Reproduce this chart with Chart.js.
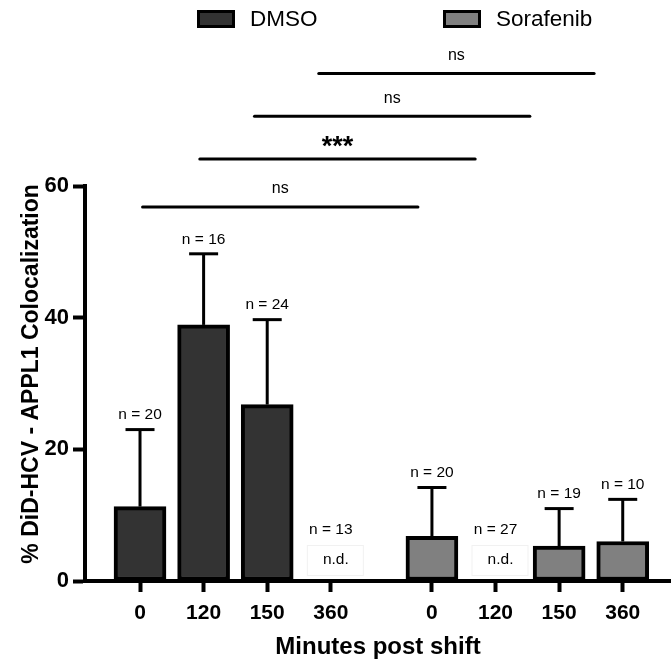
<!DOCTYPE html>
<html><head><meta charset="utf-8">
<script src="https://cdn.jsdelivr.net/npm/chart.js@4"></script>
<style>html,body{margin:0;padding:0;background:#fff}#wrap{width:671px;height:665px;position:relative}</style>
</head><body><div id="wrap"><canvas id="c"></canvas></div>
<script>
// ---- data ----
const timeLabels = ['0', '120', '150', '360'];
const seriesNames = ['DMSO', 'Sorafenib'];
const dmsoMean = [11.3, 38.9, 26.8, null];   // null = n.d.
const dmsoSD   = [11.7, 10.8, 12.9, null];
const dmsoN    = [20, 16, 24, 13];
const soraMean = [6.8, null, 5.3, 6.0];
const soraSD   = [7.4, null, 5.7, 6.4];
const soraN    = [20, 27, 19, 10];
const sigText  = ['ns', '***', 'ns', 'ns'];
const sigFrom  = [0.04, 0.94, 1.80, 2.81];   // in x-axis units
const sigTo    = [4.37, 5.27, 6.13, 7.14];
const sigY     = [56.8, 64.1, 70.6, 77.1];   // in y-axis units

// ---- build ----
const GROUP_GAP = 4.59;
const FONT = '"Liberation Sans", Arial, Helvetica, sans-serif';
const xPos = (g, i) => i + g * GROUP_GAP;
const tickValues = [0, 1].flatMap(g => timeLabels.map((_, i) => xPos(g, i)));
const tickText = [...timeLabels, ...timeLabels];
const groups = [
  {name: seriesNames[0], mean: dmsoMean, sd: dmsoSD, n: dmsoN, fill: '#333333'},
  {name: seriesNames[1], mean: soraMean, sd: soraSD, n: soraN, fill: '#808080'}
];

const annot = {
  id: 'annot',
  afterDraw(chart) {
    const {ctx, scales: {x, y}} = chart;
    ctx.save();
    ctx.strokeStyle = '#000'; ctx.fillStyle = '#000';
    ctx.textAlign = 'center'; ctx.textBaseline = 'middle';
    // error bars + n labels
    groups.forEach((g, gi) => {
      g.mean.forEach((m, i) => {
        const px = x.getPixelForValue(xPos(gi, i));
        ctx.font = '15.5px ' + FONT;
        ctx.fillStyle = '#000';
        if (m === null) {
          const y0 = y.getPixelForValue(0);
          ctx.fillText('n = ' + g.n[i], px, y0 - 51);
          ctx.lineWidth = 1; ctx.strokeStyle = '#f1f1f1';
          ctx.strokeRect(px - 23.5, y0 - 35.5, 56, 30);
          ctx.fillText('n.d.', px + 5, y0 - 21.5);
          ctx.strokeStyle = '#000';
          return;
        }
        const yb = y.getPixelForValue(m), yt = y.getPixelForValue(m + g.sd[i]);
        ctx.lineWidth = 3;
        ctx.beginPath(); ctx.moveTo(px, yb); ctx.lineTo(px, yt); ctx.stroke();
        ctx.beginPath(); ctx.moveTo(px - 14.5, yt); ctx.lineTo(px + 14.5, yt); ctx.stroke();
        ctx.fillText('n = ' + g.n[i], px, yt - 14.5);
      });
    });
    // significance lines
    sigText.forEach((t, k) => {
      const x1 = x.getPixelForValue(sigFrom[k]), x2 = x.getPixelForValue(sigTo[k]);
      const yy = y.getPixelForValue(sigY[k]);
      ctx.lineWidth = 3; ctx.lineCap = 'round';
      ctx.beginPath(); ctx.moveTo(x1, yy); ctx.lineTo(x2, yy); ctx.stroke();
      if (t === 'ns') { ctx.font = '16px ' + FONT; ctx.fillText(t, (x1 + x2) / 2, yy - 18); }
      else { ctx.font = 'bold 27px ' + FONT; ctx.fillText(t, (x1 + x2) / 2, yy - 11); }
    });
    // legend
    const legendBoxX = [197, 443];
    ctx.textAlign = 'left';
    groups.forEach((g, gi) => {
      const bx = legendBoxX[gi];
      ctx.fillStyle = g.fill; ctx.lineWidth = 3; ctx.lineCap = 'butt';
      ctx.fillRect(bx + 1.5, 11.5, 35, 15);
      ctx.strokeRect(bx + 1.5, 11.5, 35, 15);
      ctx.fillStyle = '#000';
      ctx.font = '22.5px ' + FONT;
      ctx.fillText(g.name, bx + 53, 19.5);
    });
    ctx.restore();
  }
};

new Chart(document.getElementById('c'), {
  type: 'bar',
  data: {
    datasets: groups.map((g, gi) => ({
      label: g.name,
      data: g.mean.map((m, i) => ({x: xPos(gi, i), y: m})),
      backgroundColor: g.fill, borderColor: '#000', borderWidth: 4,
      borderSkipped: false, barThickness: 52, grouped: false
    }))
  },
  options: {
    responsive: true, maintainAspectRatio: false, animation: false,
    layout: {padding: {top: 186, left: 0, right: 0, bottom: 0}},
    plugins: {legend: {display: false}, tooltip: {enabled: false}},
    scales: {
      x: {
        type: 'linear', min: -0.865, max: 8.349, bounds: 'data', offset: false,
        afterBuildTicks(s) { s.ticks = tickValues.map(v => ({value: v})); },
        afterFit(s) { s.height = 84; },
        ticks: {autoSkip: false, maxRotation: 0, padding: 9, color: '#000',
                font: {family: FONT, size: 21, weight: 'bold'},
                callback: (v, i) => tickText[i]},
        grid: {offset: false, drawOnChartArea: false, tickLength: 11, tickWidth: 4, tickColor: '#000'},
        border: {color: '#000', width: 4},
        title: {display: true, text: 'Minutes post shift', color: '#000',
                font: {family: FONT, size: 24, weight: 'bold'}, padding: {top: 0, bottom: 3}}
      },
      y: {
        min: 0, max: 60,
        afterFit(s) { s.width = 85; },
        ticks: {stepSize: 20, padding: 4, color: '#000', font: {family: FONT, size: 22, weight: 'bold'}},
        grid: {drawOnChartArea: false, tickLength: 12, tickWidth: 4, tickColor: '#000'},
        border: {color: '#000', width: 4},
        title: {display: true, text: '   % DiD-HCV - APPL1 Colocalization', color: '#000',
                font: {family: FONT, size: 23, weight: 'bold'}, padding: {top: 18, bottom: 0}}
      }
    }
  },
  plugins: [annot]
});
</script>
</body></html>
